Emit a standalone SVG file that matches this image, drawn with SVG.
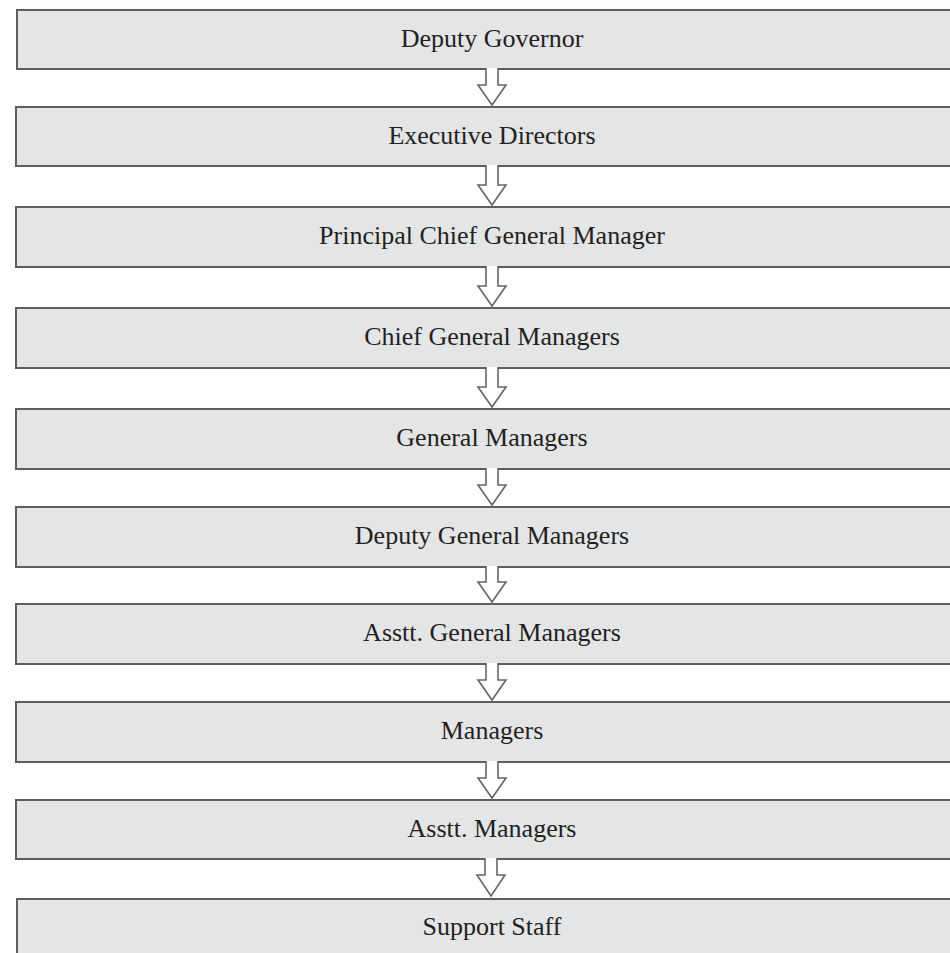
<svg xmlns="http://www.w3.org/2000/svg" width="950" height="953" viewBox="0 0 950 953">
<style>
.box{fill:#e4e5e6;stroke:#5e5e5e;stroke-width:2}
.lbl{font-family:"Liberation Serif","Times New Roman",serif;font-size:26px;fill:#231f20;text-anchor:middle}
.arr{fill:#ffffff;stroke:#666666;stroke-width:1.6;stroke-linejoin:miter}
</style>
<rect width="950" height="953" fill="#ffffff"/>
<g id="n1"><rect class="box" x="17" y="10" width="940" height="59"/><text class="lbl" x="492" y="47">Deputy Governor</text></g>
<g id="n2"><rect class="box" x="16" y="107" width="940" height="59"/><text class="lbl" x="492" y="144">Executive Directors</text></g>
<g id="n3"><rect class="box" x="16" y="207" width="940" height="60"/><text class="lbl" x="492" y="244">Principal Chief General Manager</text></g>
<g id="n4"><rect class="box" x="16" y="308" width="940" height="60"/><text class="lbl" x="492" y="345">Chief General Managers</text></g>
<g id="n5"><rect class="box" x="16" y="409" width="940" height="60"/><text class="lbl" x="492" y="446">General Managers</text></g>
<g id="n6"><rect class="box" x="16" y="507" width="940" height="60"/><text class="lbl" x="492" y="544">Deputy General Managers</text></g>
<g id="n7"><rect class="box" x="16" y="604" width="940" height="60"/><text class="lbl" x="492" y="641">Asstt. General Managers</text></g>
<g id="n8"><rect class="box" x="16" y="702" width="940" height="60"/><text class="lbl" x="492" y="739">Managers</text></g>
<g id="n9"><rect class="box" x="16" y="800" width="940" height="59"/><text class="lbl" x="492" y="837">Asstt. Managers</text></g>
<g id="n10"><rect class="box" x="17" y="899" width="940" height="70"/><text class="lbl" x="492" y="935">Support Staff</text></g>
<g id="connectors">
<path class="arr" d="M486,68 V85 H478 L492,105 L506,85 H498 V68"/>
<path class="arr" d="M486,165 V185 H478 L492,205 L506,185 H498 V165"/>
<path class="arr" d="M486,266 V286 H478 L492,306 L506,286 H498 V266"/>
<path class="arr" d="M486,367 V387 H478 L492,407 L506,387 H498 V367"/>
<path class="arr" d="M486,468 V485 H478 L492,505 L506,485 H498 V468"/>
<path class="arr" d="M486,566 V582 H478 L492,602 L506,582 H498 V566"/>
<path class="arr" d="M486,663 V680 H478 L492,700 L506,680 H498 V663"/>
<path class="arr" d="M486,761 V778 H478 L492,798 L506,778 H498 V761"/>
<path class="arr" d="M485,858 V875 H477 L491,896 L505,875 H497 V858"/>
</g>
</svg>
